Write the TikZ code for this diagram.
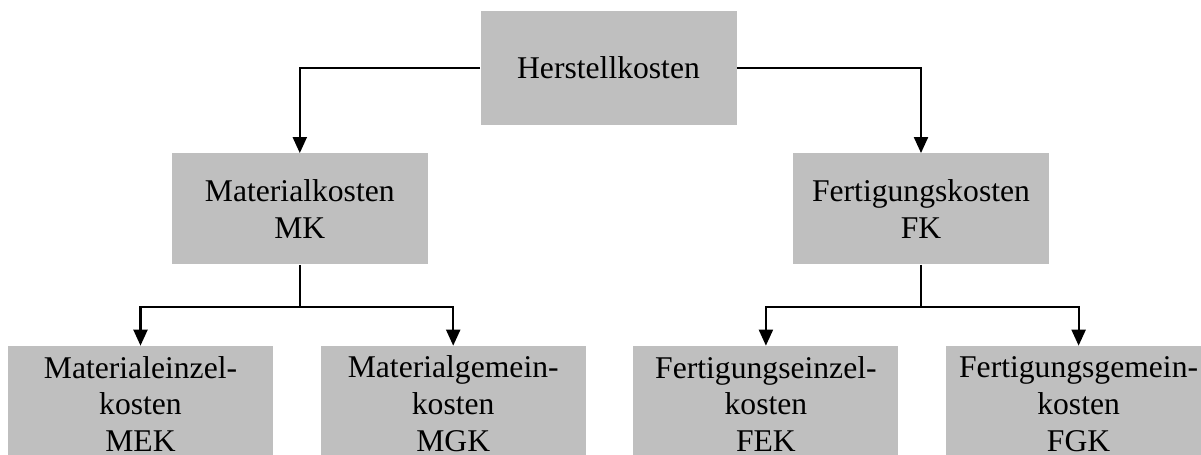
\documentclass[tikz,border=0pt]{standalone}
\usepackage{fontspec}
\setmainfont{Liberation Serif}
\usetikzlibrary{arrows.meta,positioning}

\begin{document}
\begin{tikzpicture}[
    node distance=0.94cm,
    kbox/.style={rectangle, fill=black!25, draw=none,
                 minimum width=5.12cm, minimum height=2.22cm,
                 align=center, font=\fontsize{18}{21}\selectfont},
    leaf/.style={kbox, minimum width=5.3cm, minimum height=2.32cm},
    link/.style={-{Triangle[length=0.32cm,width=0.28cm]}, line width=1.2pt}
]
  \useasboundingbox (0,0) rectangle (24.02,-9.08);

  % Top level
  \node[kbox, minimum height=2.28cm] (hk) at (12.17,-1.36) {Herstellkosten};

  % Second level
  \node[kbox] (mk) at (5.996,-4.178) {Materialkosten\\MK};
  \node[kbox] (fk) at (18.42,-4.178) {Fertigungskosten\\FK};

  % Third level
  \node[leaf] (mek) at (2.81,-8.08) {Materialeinzel-\\kosten\\MEK};
  \node[leaf, right=of mek] (mgk) {Materialgemein-\\kosten\\MGK};
  \node[leaf, right=of mgk] (fek) {Fertigungseinzel-\\kosten\\FEK};
  \node[leaf, right=of fek] (fgk) {Fertigungsgemein-\\kosten\\FGK};

  % Connectors
  \draw[link] (hk.west) -| (mk.north);
  \draw[link] (hk.east) -| (fk.north);

  \draw[line width=1.2pt] (mk.south) -- ++(0,-0.84) coordinate (mjoin);
  \draw[link] (mjoin) -| (mek.north);
  \draw[link] (mjoin) -| (mgk.north);

  \draw[line width=1.2pt] (fk.south) -- ++(0,-0.84) coordinate (fjoin);
  \draw[link] (fjoin) -| (fek.north);
  \draw[link] (fjoin) -| (fgk.north);

\end{tikzpicture}
\end{document}
